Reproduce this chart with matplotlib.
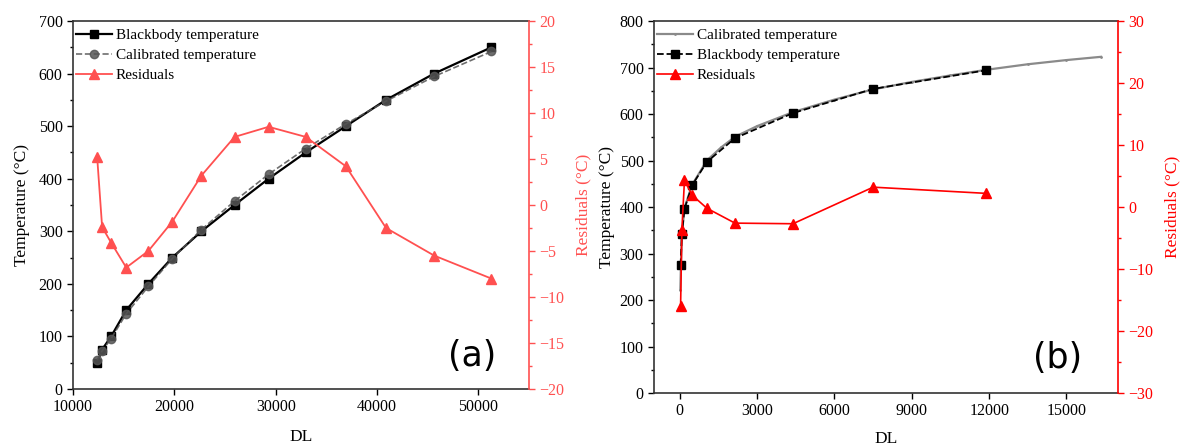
import numpy as np
import matplotlib.pyplot as plt

plt.rcParams['font.family'] = ['Liberation Serif', 'DejaVu Serif']
plt.rcParams['mathtext.fontset'] = 'stix'

# (a) blackbody calibration over the full range
dl_a = [12380, 12870, 13760, 15250, 17430, 19800, 22670, 25940, 29300,
        32970, 36930, 40890, 45640, 51290]
bb_a = [50, 75, 100, 150, 200, 250, 300, 350, 400, 450, 500, 550, 600, 650]
cal_a = [55, 72.6, 95.9, 143.2, 195, 248.2, 303.2, 357.4, 408.5, 457.4,
         504.2, 547.5, 594.5, 642]
res_a = [5.2, -2.4, -4.1, -6.8, -5.0, -1.8, 3.2, 7.4, 8.5, 7.4, 4.2, -2.5,
         -5.5, -8.0]

# (b) low-DL range with fitted calibration curve
dl_b = [30, 80, 180, 480, 1050, 2140, 4390, 7500, 11880]
bb_b = [275, 342, 396, 447, 497, 548, 602, 654, 694]
res_b = [-16.0, -3.7, 4.3, 1.9, -0.2, -2.6, -2.7, 3.2, 2.2]
dl_fit = [20, 40, 80, 180, 480, 1050, 1600, 2140, 3000, 4390, 6000, 7500,
          9000, 10500, 11880, 13500, 15000, 16340]
cal_fit = [222, 268, 342, 398, 448, 500, 528, 551, 574, 604, 631, 653,
           669, 683, 695, 707, 716, 723]

fig = plt.figure(figsize=(11.84, 4.47), dpi=100, facecolor='w')
tick_fs = 11.5
label_fs = 12.5


def style_axes(ax, ax2, red):
    ax.tick_params(axis='both', direction='out', labelsize=tick_fs, length=4, width=1)
    ax.tick_params(axis='y', which='minor', direction='out', length=2.5, width=1)
    ax.tick_params(axis='x', which='minor', bottom=False)
    for s in ['left', 'bottom', 'top']:
        ax.spines[s].set_linewidth(1.2)
        ax.spines[s].set_color('#333333')
    ax.spines['right'].set_visible(False)
    ax2.spines['right'].set_color(red)
    ax2.spines['right'].set_linewidth(1.2)
    for s in ['left', 'bottom', 'top']:
        ax2.spines[s].set_visible(False)
    ax2.tick_params(axis='y', colors=red, labelsize=tick_fs, length=4, width=1)
    ax2.tick_params(axis='y', which='minor', colors=red, length=2.5, width=1)


legend_kw = dict(loc='upper left', frameon=False, fontsize=11,
                 handlelength=2.4, handletextpad=0.2, labelspacing=0.42,
                 borderaxespad=0.0, borderpad=0.0,
                 bbox_to_anchor=(0.006, 0.98))

# panel (a)
#-------------------------------------------------
red_a = '#ff5050'
ax = fig.add_axes([0.0617, 0.1298, 0.3851, 0.8232])
ax2 = ax.twinx()
l1, = ax.plot(dl_a, bb_a, 'k-', lw=1.6, marker='s', ms=5.5, label='Blackbody temperature')
l2, = ax.plot(dl_a, cal_a, color='#555555', ls='--', lw=1.2, marker='o', ms=6,
              alpha=0.85, label='Calibrated temperature')
l3, = ax2.plot(dl_a, res_a, color=red_a, lw=1.3, marker='^', ms=6.5, label='Residuals')
ax.set_xlim(10000, 55000)
ax.set_ylim(0, 700)
ax.set_xticks([10000, 20000, 30000, 40000, 50000])
ax.set_yticks(np.arange(0, 701, 100))
ax.set_yticks(np.arange(50, 700, 100), minor=True)
ax2.set_ylim(-20, 20)
ax2.set_yticks(np.arange(-20, 21, 5))
ax2.set_yticks(np.arange(-17.5, 20, 5), minor=True)
ax2.set_yticklabels([str(v).replace('-', '\u2212') for v in range(-20, 21, 5)])
style_axes(ax, ax2, red_a)
ax.set_xlabel('DL', fontsize=label_fs, labelpad=10)
ax.set_ylabel('Temperature (\u00b0C)', fontsize=label_fs, labelpad=6)
ax2.set_ylabel('Residuals (\u00b0C)', fontsize=label_fs, color=red_a, labelpad=8)
ax.legend(handles=[l1, l2, l3], **legend_kw)
ax.text(0.875, 0.09, '(a)', transform=ax.transAxes, fontsize=25,
        family='DejaVu Sans', ha='center', va='center')

# panel (b)
#-------------------------------------------------
red_b = '#ff0000'
bx = fig.add_axes([0.5524, 0.1208, 0.3919, 0.8322])
bx2 = bx.twinx()
m1, = bx.plot(dl_fit, cal_fit, color='#8a8a8a', lw=1.6, marker='.', ms=2,
              label='Calibrated temperature')
m2, = bx.plot(dl_b, bb_b, 'k--', lw=1.3, marker='s', ms=5.5, label='Blackbody temperature')
m3, = bx2.plot(dl_b, res_b, color=red_b, lw=1.2, marker='^', ms=7, label='Residuals')
bx.set_xlim(-1000, 17000)
bx.set_ylim(0, 800)
bx.set_xticks(np.arange(0, 15001, 3000))
bx.set_yticks(np.arange(0, 801, 100))
bx.set_yticks(np.arange(50, 800, 100), minor=True)
bx2.set_ylim(-30, 30)
bx2.set_yticks(np.arange(-30, 31, 10))
bx2.set_yticks(np.arange(-25, 30, 10), minor=True)
bx2.set_yticklabels([str(v).replace('-', '\u2212') for v in range(-30, 31, 10)])
style_axes(bx, bx2, red_b)
bx.set_xlabel('DL', fontsize=label_fs, labelpad=8)
bx.set_ylabel('Temperature (\u00b0C)', fontsize=label_fs, labelpad=3)
bx2.set_ylabel('Residuals (\u00b0C)', fontsize=label_fs, color=red_b, labelpad=8)
bx.legend(handles=[m1, m2, m3], **legend_kw)
bx.text(0.87, 0.095, '(b)', transform=bx.transAxes, fontsize=25,
        family='DejaVu Sans', ha='center', va='center')

fig.savefig('out.png', dpi=100)
